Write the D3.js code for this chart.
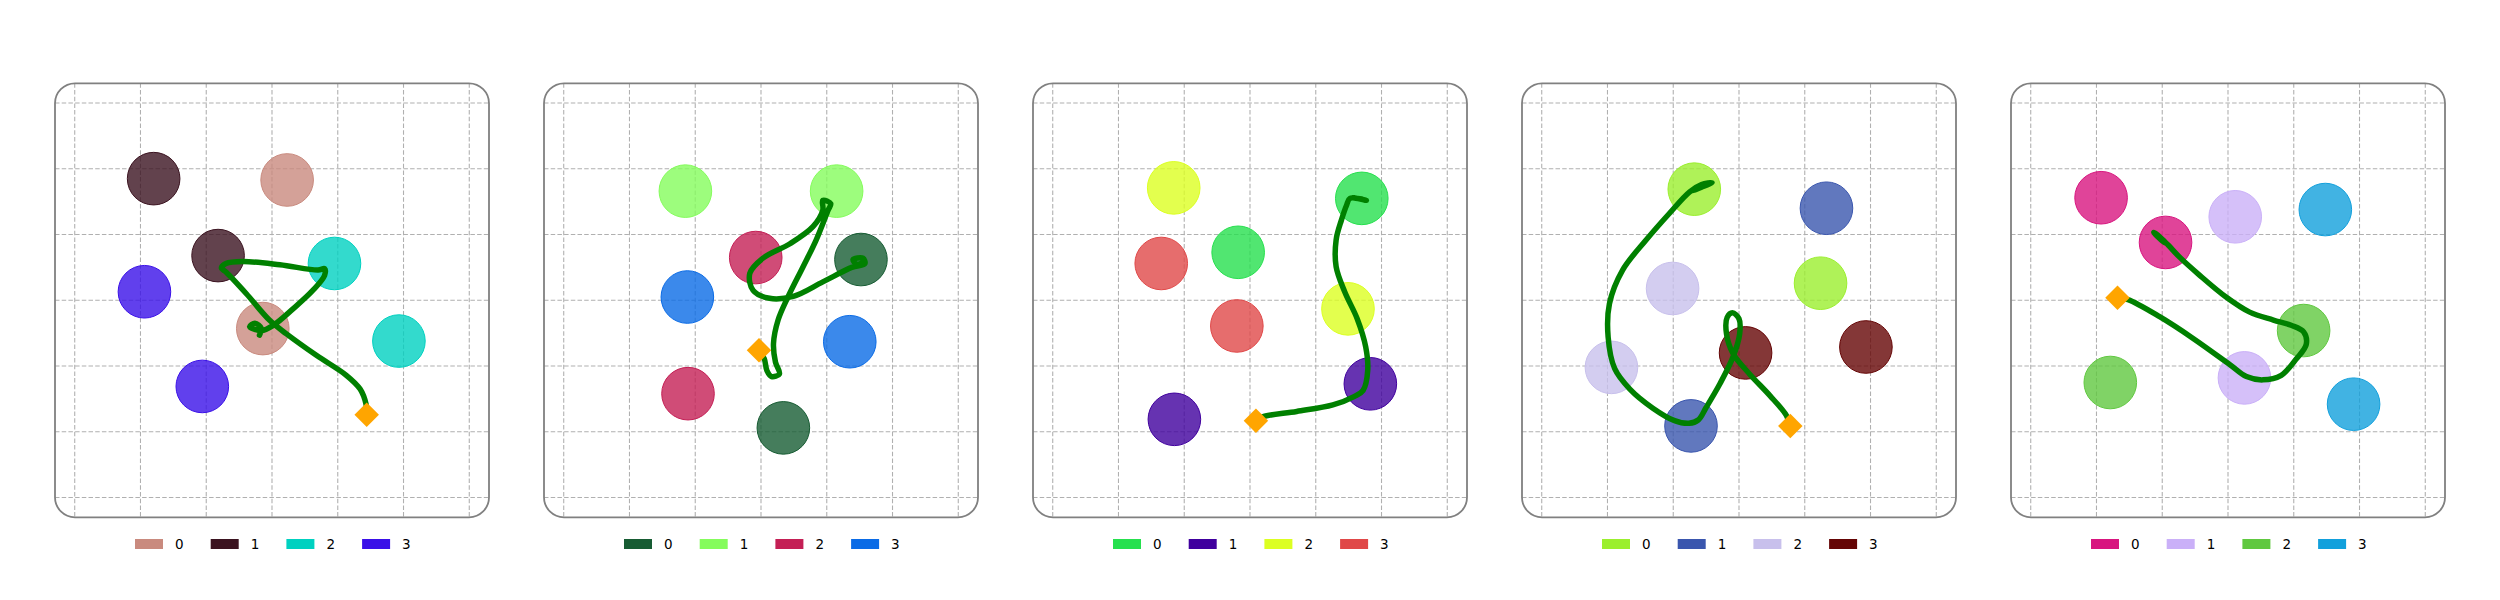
<!doctype html>
<html>
<head>
  <script src="https://cdnjs.cloudflare.com/ajax/libs/d3/7.8.5/d3.min.js"></script>
  <style>
    body { margin: 0; background: #fff; }
    text { font-family: "DejaVu Sans", sans-serif; }
  </style>
</head>
<body>
<svg width="2500" height="600"></svg>
<script>
// legend categories and grid ticks
var categories = ["0", "1", "2", "3"];
var gridTicks = [0, 1, 2, 3, 4, 5, 6];

// colours of the four categories, one list per panel
var colorsP1 = ["#c98a7e", "#3b1320", "#00d1c0", "#3a10e8"];
var colorsP2 = ["#175c33", "#85fc5c", "#c41f55", "#0a6be6"];
var colorsP3 = ["#26e04e", "#40009e", "#dcff22", "#e04848"];
var colorsP4 = ["#9bef2e", "#3a56ae", "#c8c0ec", "#650505"];
var colorsP5 = ["#d8157f", "#cab0f8", "#60c840", "#12a0dc"];

// circles: [x, y, category]
var circlesP1 = [[1.20,1.15,1],[3.23,1.17,0],[2.18,2.32,1],[3.95,2.44,2],[1.06,2.87,3],[2.86,3.43,0],[4.93,3.62,2],[1.94,4.31,3]];
var circlesP2 = [[1.85,1.34,1],[4.15,1.34,1],[2.92,2.35,2],[4.52,2.38,0],[1.88,2.95,3],[4.35,3.63,3],[1.89,4.42,2],[3.34,4.94,0]];
var circlesP3 = [[1.84,1.29,2],[4.70,1.45,0],[1.65,2.44,3],[2.82,2.27,0],[2.80,3.39,3],[4.49,3.13,2],[4.83,4.27,1],[1.85,4.81,1]];
var circlesP4 = [[2.32,1.31,0],[4.33,1.60,1],[1.99,2.82,2],[4.24,2.74,0],[3.10,3.80,3],[4.93,3.71,3],[1.06,4.02,2],[2.27,4.91,1]];
var circlesP5 = [[1.07,1.44,0],[2.05,2.12,0],[3.11,1.73,1],[4.48,1.62,3],[4.15,3.46,2],[1.21,4.25,2],[3.25,4.18,1],[4.91,4.58,3]];

// trajectories, first point is the start marker
var pathP1 = [[4.44,4.74],[4.43,4.58],[4.34,4.35],[4.13,4.14],[3.68,3.84],[3.22,3.51],[2.96,3.30],[2.61,2.90],[2.30,2.57],[2.23,2.51],[2.30,2.44],[2.56,2.41],[3.12,2.46],[3.70,2.54],[3.80,2.52],[3.80,2.62],[3.62,2.85],[3.32,3.13],[3.02,3.38],[2.84,3.46],[2.66,3.40],[2.74,3.35],[2.84,3.43],[2.81,3.53]];
var pathP2 = [[2.97,3.76],[3.05,3.89],[3.09,4.07],[3.16,4.16],[3.28,4.12],[3.22,3.94],[3.19,3.66],[3.26,3.30],[3.41,2.95],[3.64,2.49],[3.84,2.08],[4.02,1.63],[4.06,1.53],[3.94,1.48],[3.94,1.63],[3.79,1.88],[3.44,2.14],[3.03,2.36],[2.83,2.59],[2.88,2.85],[3.13,2.97],[3.49,2.94],[3.94,2.72],[4.38,2.50],[4.58,2.44],[4.55,2.36],[4.40,2.38],[4.45,2.45],[4.56,2.42]];
var pathP3 = [[3.09,4.83],[3.20,4.77],[3.71,4.69],[4.26,4.59],[4.59,4.46],[4.72,4.37],[4.79,4.07],[4.76,3.71],[4.63,3.28],[4.44,2.87],[4.31,2.49],[4.31,2.08],[4.39,1.78],[4.47,1.55],[4.52,1.45],[4.77,1.48],[4.57,1.44],[4.70,1.46]];
var pathP4 = [[3.78,4.91],[3.72,4.75],[3.47,4.45],[3.16,4.12],[2.91,3.81],[2.81,3.51],[2.82,3.26],[2.90,3.19],[3.00,3.28],[3.01,3.51],[2.91,3.86],[2.71,4.27],[2.50,4.63],[2.38,4.82],[2.24,4.87],[2.02,4.83],[1.69,4.64],[1.34,4.35],[1.11,4.04],[1.01,3.56],[1.03,3.05],[1.23,2.54],[1.59,2.08],[1.94,1.68],[2.25,1.35],[2.43,1.24],[2.59,1.21],[2.43,1.28],[2.30,1.33],[2.45,1.25]];
var pathP5 = [[1.32,2.96],[1.48,2.99],[1.96,3.25],[2.47,3.58],[3.03,3.98],[3.28,4.16],[3.53,4.21],[3.81,4.14],[4.04,3.89],[4.19,3.67],[4.15,3.48],[3.96,3.38],[3.69,3.30],[3.33,3.18],[2.97,2.95],[2.57,2.62],[2.26,2.34],[2.09,2.16],[1.91,1.99],[1.87,1.97],[2.04,2.13],[1.95,2.03],[2.03,2.10]];

var panels = [
  {colors: colorsP1, circles: circlesP1, path: pathP1},
  {colors: colorsP2, circles: circlesP2, path: pathP2},
  {colors: colorsP3, circles: circlesP3, path: pathP3},
  {colors: colorsP4, circles: circlesP4, path: pathP4},
  {colors: colorsP5, circles: circlesP5, path: pathP5}
];

var svg = d3.select("svg");
svg.append("rect").attr("width", 2500).attr("height", 600).attr("fill", "#fff");

var size = 434, top0 = 83.3, step = 489, left0 = 55;

panels.forEach(function(p, i) {
  var left = left0 + i * step;
  var x = d3.scaleLinear().domain([-0.3, 6.3]).range([left, left + size]);
  var y = d3.scaleLinear().domain([-0.3, 6.3]).range([top0, top0 + size]);
  var r = x(0.4) - x(0);

  svg.append("clipPath").attr("id", "clip" + i)
    .append("rect")
    .attr("x", left).attr("y", top0)
    .attr("width", size).attr("height", size)
    .attr("rx", 20).attr("ry", 20);

  var g = svg.append("g");
  var grid = g.append("g").attr("clip-path", "url(#clip" + i + ")");

  grid.selectAll("line.v").data(gridTicks).enter().append("line")
    .attr("x1", d => x(d)).attr("x2", d => x(d))
    .attr("y1", top0).attr("y2", top0 + size)
    .attr("stroke", "#b0b0b0").attr("stroke-width", 1.1)
    .attr("stroke-dasharray", "4.5,2.2");
  grid.selectAll("line.h").data(gridTicks).enter().append("line")
    .attr("y1", d => y(d)).attr("y2", d => y(d))
    .attr("x1", left).attr("x2", left + size)
    .attr("stroke", "#b0b0b0").attr("stroke-width", 1.1)
    .attr("stroke-dasharray", "4.5,2.2");

  g.append("g").selectAll("circle").data(p.circles).enter().append("circle")
    .attr("cx", d => x(d[0])).attr("cy", d => y(d[1])).attr("r", r)
    .attr("fill", d => p.colors[d[2]]).attr("fill-opacity", 0.8)
    .attr("stroke", d => p.colors[d[2]]).attr("stroke-width", 1);

  var line = d3.line().x(d => x(d[0])).y(d => y(d[1])).curve(d3.curveCatmullRom.alpha(0.5));
  g.append("path").attr("d", line(p.path))
    .attr("fill", "none").attr("stroke", "#008000").attr("stroke-width", 5.5)
    .attr("stroke-linecap", "round").attr("stroke-linejoin", "round");

  var s = p.path[0];
  g.append("path")
    .attr("d", d3.symbol().type(d3.symbolSquare).size(300)())
    .attr("transform", "translate(" + x(s[0]) + "," + y(s[1]) + ") rotate(45)")
    .attr("fill", "#ffa500");

  g.append("rect")
    .attr("x", left).attr("y", top0)
    .attr("width", size).attr("height", size)
    .attr("rx", 20).attr("ry", 20)
    .attr("fill", "none").attr("stroke", "#808080").attr("stroke-width", 1.8);

  // legend
  var cx = left + size / 2;
  var lg = g.append("g").attr("transform", "translate(" + (cx - 137) + ",544)");
  var item = lg.selectAll("g").data(categories).enter().append("g")
    .attr("transform", (d, j) => "translate(" + (j * 75.7) + ",0)");
  item.append("rect").attr("x", 0).attr("y", -5).attr("width", 28).attr("height", 10)
    .attr("fill", (d, j) => p.colors[j]);
  item.append("text").attr("x", 40).attr("y", 5).attr("font-size", 13.5)
    .attr("fill", "#000").text(d => d);
});
</script>
</body>
</html>
